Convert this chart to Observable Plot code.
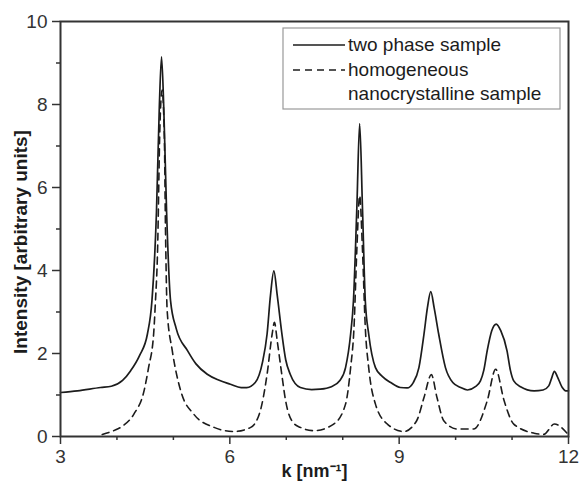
<!DOCTYPE html>
<html>
<head>
<meta charset="utf-8">
<script src="https://cdn.jsdelivr.net/npm/d3@7"></script>
<script src="https://cdn.jsdelivr.net/npm/@observablehq/plot@0.6"></script>
<style>
  html, body { margin: 0; padding: 0; background: #fff; }
  #chart { width: 579px; height: 483px; overflow: hidden; }
</style>
</head>
<body>
<div id="chart"></div>
<script>
// Two phase sample (solid)
const kTwoPhase = [3.00, 3.30, 3.71, 3.90, 4.10, 4.24, 4.40, 4.54, 4.62, 4.70, 4.75, 4.79, 4.83, 4.88, 4.95, 5.05, 5.25, 5.40, 5.60, 5.80, 6.01, 6.20, 6.30, 6.45, 6.58, 6.66, 6.72, 6.78, 6.84, 6.92, 6.99, 7.07, 7.25, 7.45, 7.60, 7.80, 7.95, 8.05, 8.14, 8.19, 8.25, 8.30, 8.35, 8.40, 8.46, 8.58, 8.70, 8.85, 9.02, 9.14, 9.25, 9.35, 9.44, 9.50, 9.56, 9.62, 9.70, 9.82, 9.95, 10.09, 10.21, 10.35, 10.44, 10.50, 10.56, 10.64, 10.72, 10.80, 10.91, 10.97, 11.03, 11.15, 11.39, 11.55, 11.65, 11.70, 11.75, 11.80, 11.89, 11.95, 12.00];
const iTwoPhase = [1.06, 1.10, 1.18, 1.21, 1.35, 1.58, 1.95, 2.47, 3.27, 5.40, 7.90, 9.15, 7.90, 5.40, 3.27, 2.60, 2.07, 1.75, 1.50, 1.36, 1.26, 1.18, 1.18, 1.30, 1.80, 2.47, 3.40, 3.99, 3.40, 2.50, 1.85, 1.50, 1.18, 1.13, 1.14, 1.20, 1.35, 1.66, 2.47, 3.27, 5.50, 7.54, 5.50, 3.27, 2.47, 1.66, 1.45, 1.30, 1.18, 1.17, 1.30, 1.66, 2.47, 3.10, 3.49, 3.10, 2.47, 1.66, 1.30, 1.18, 1.12, 1.20, 1.34, 1.60, 2.07, 2.55, 2.71, 2.55, 2.07, 1.60, 1.34, 1.20, 1.10, 1.12, 1.22, 1.40, 1.57, 1.45, 1.18, 1.10, 1.10];

// Homogeneous nanocrystalline sample (dashed)
const kHomog = [3.74, 3.94, 4.10, 4.30, 4.48, 4.56, 4.65, 4.68, 4.72, 4.76, 4.80, 4.84, 4.86, 4.89, 4.98, 5.13, 5.36, 5.72, 6.07, 6.37, 6.54, 6.66, 6.75, 6.79, 6.84, 6.92, 6.99, 7.13, 7.25, 7.49, 7.84, 8.05, 8.14, 8.20, 8.25, 8.30, 8.35, 8.40, 8.46, 8.58, 8.79, 9.08, 9.31, 9.44, 9.57, 9.67, 9.79, 10.03, 10.32, 10.56, 10.71, 10.86, 11.03, 11.39, 11.56, 11.75, 11.98];
const iHomog = [0.05, 0.14, 0.25, 0.54, 1.10, 1.66, 2.47, 3.20, 4.50, 7.40, 8.35, 7.20, 5.00, 3.03, 2.07, 1.10, 0.54, 0.22, 0.12, 0.22, 0.62, 1.50, 2.47, 2.75, 2.30, 1.50, 0.85, 0.32, 0.22, 0.14, 0.30, 0.78, 1.66, 2.63, 4.50, 5.80, 4.50, 2.63, 1.66, 0.78, 0.30, 0.12, 0.38, 0.94, 1.49, 0.94, 0.38, 0.18, 0.18, 0.86, 1.62, 0.86, 0.30, 0.08, 0.05, 0.30, 0.07];

const xMajorTicks = [3, 6, 9, 12];
const xMinorTicks = [4, 5, 7, 8, 10, 11];
const yMajorTicks = [0, 2, 4, 6, 8, 10];
const yMinorTicks = [1, 3, 5, 7, 9];

const seriesNames = ["two phase sample", "homogeneous", "nanocrystalline sample"];
const xLabel = "k [nm\u207B\u00B9]";
const yLabel = "Intensity [arbitrary units]";

const twoPhase = kTwoPhase.map((k, i) => ({k, v: iTwoPhase[i]}));
const homog = kHomog.map((k, i) => ({k, v: iHomog[i]}));

const ink = "#1c1c1c";
const axisInk = "#333";

const chart = Plot.plot({
  width: 579,
  height: 483,
  marginLeft: 60,
  marginRight: 11,
  marginTop: 21,
  marginBottom: 47,
  style: {fontFamily: "'Liberation Sans', Arial, sans-serif", fontSize: "19px", color: axisInk, background: "#fff"},
  x: {domain: [3, 12]},
  y: {domain: [0, 10]},
  marks: [
    Plot.line(homog, {x: "k", y: "v", stroke: ink, strokeWidth: 1.6, strokeDasharray: "7,5", curve: "monotone-x"}),
    Plot.line(twoPhase, {x: "k", y: "v", stroke: ink, strokeWidth: 1.7, curve: "monotone-x"}),
    Plot.axisX({ticks: xMajorTicks, tickSize: 8, tickPadding: 5, label: null, strokeWidth: 1.5, fontSize: 19}),
    Plot.axisX({ticks: xMinorTicks, tickSize: 4, text: null, label: null, strokeWidth: 1.5}),
    Plot.axisY({ticks: yMajorTicks, tickSize: 8, tickPadding: 5, label: null, strokeWidth: 1.5, fontSize: 19}),
    Plot.axisY({ticks: yMinorTicks, tickSize: 4, text: null, label: null, strokeWidth: 1.5}),
    Plot.frame({stroke: axisInk, strokeWidth: 2}),
    Plot.text([yLabel], {frameAnchor: "left", textAnchor: "middle", dx: -40, dy: 13, rotate: -90, fontWeight: "bold", fontSize: 19, fill: ink, text: d => d}),
    Plot.text([xLabel], {frameAnchor: "bottom", dy: 40, fontWeight: "bold", fontSize: 18, fill: ink, text: d => d})
  ]
});

// Legend box inside the SVG
const svg = d3.select(chart);
const lg = svg.append("g")
  .attr("font-family", "'Liberation Sans', Arial, sans-serif")
  .attr("font-size", 19)
  .attr("text-anchor", "start")
  .attr("fill", ink);
lg.append("rect").attr("x", 283).attr("y", 28).attr("width", 277).attr("height", 81)
  .attr("fill", "#fff").attr("stroke", "#999").attr("stroke-width", 1.2);
lg.append("line").attr("x1", 293).attr("x2", 345).attr("y1", 45).attr("y2", 45)
  .attr("stroke", ink).attr("stroke-width", 1.7);
lg.append("line").attr("x1", 293).attr("x2", 345).attr("y1", 70).attr("y2", 70)
  .attr("stroke", ink).attr("stroke-width", 1.6).attr("stroke-dasharray", "7,5");
lg.append("text").attr("x", 348).attr("y", 51).attr("text-anchor", "start").text(seriesNames[0]);
lg.append("text").attr("x", 348).attr("y", 76).attr("text-anchor", "start").text(seriesNames[1]);
lg.append("text").attr("x", 348).attr("y", 100).attr("text-anchor", "start").text(seriesNames[2]);

document.getElementById("chart").appendChild(chart);
</script>
</body>
</html>
